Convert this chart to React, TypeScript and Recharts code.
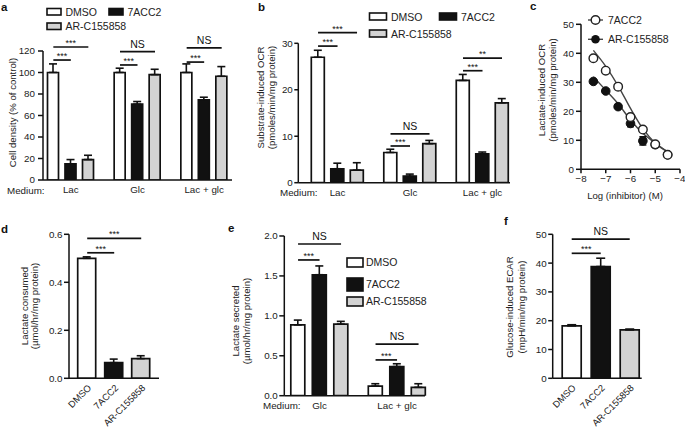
import React from 'react';
import { ComposedChart, Bar, XAxis, YAxis, ErrorBar, Cell, ReferenceLine, Scatter, Line } from 'recharts';

const PAGE_W = 685;
const PAGE_H = 429;
const FONT = '"Liberation Sans", Arial, Helvetica, sans-serif';
const INK = '#111';

const treatments = ['DMSO', '7ACC2', 'AR-C155858'];
const fills = ['#ffffff', '#111111', '#d3d3d3'];

// a - cell density (% of control)
const mediaA = ['Lac', 'Glc', 'Lac + glc'];
const densityDmso = [100, 100, 100];
const densityDmsoErr = [8, 4, 8];
const density7acc2 = [15, 70.5, 74.5];
const density7acc2Err = [4, 2.5, 2.5];
const densityAr = [19, 98, 96.5];
const densityArErr = [4, 5, 9];
const densityTicks = [0, 20, 40, 60, 80, 100, 120];
// [fromGroup, fromBar, toGroup, toBar, y, label]
const densitySig: [number, number, number, number, number, string][] = [
  [0, 0, 0, 2, 123.7, '***'], [0, 0, 0, 1, 111.6, '***'],
  [1, 0, 1, 2, 119.4, 'NS'], [1, 0, 1, 1, 107, '***'],
  [2, 0, 2, 2, 123, 'NS'], [2, 0, 2, 1, 109.7, '***'],
];

// b - substrate-induced OCR
const mediaB = ['Lac', 'Glc', 'Lac + glc'];
const ocrDmso = [27, 6.5, 22];
const ocrDmsoErr = [1.5, 0.7, 1.3];
const ocr7acc2 = [3, 1.4, 6.2];
const ocr7acc2Err = [1.2, 0.45, 0.4];
const ocrAr = [2.7, 8.4, 17.2];
const ocrArErr = [1.6, 0.7, 0.9];
const ocrTicks = [0, 10, 20, 30];
const ocrSig: [number, number, number, number, number, string][] = [
  [0, 0, 0, 2, 32.3, '***'], [0, 0, 0, 1, 29.4, '***'],
  [1, 0, 1, 2, 10.5, 'NS'], [1, 0, 1, 1, 7.9, '***'],
  [2, 0, 2, 2, 26.8, '**'], [2, 0, 2, 1, 24.1, '***'],
];

// c - lactate-induced OCR vs log(inhibitor)
const logDose = [-7.5, -7, -6.5, -6, -5.5, -5, -4.5];
const lacOcr7acc2 = [38.3, 34, 28.5, 18, 13.7, 8.6, 5];
const lacOcrAr = [30.3, 27, 21.6, 15.8, 9.8, 8.5, 5];
const lacOcrArErr = [0.6, 0.6, 0.6, 1.1, 1.4, 0.6, 0.5];
const fit7acc2 = [41, 35.5, 28.8, 21, 14, 9, 6];
const fitAr = [31.9, 27.3, 22.6, 17, 12.4, 9, 6.1];
const doseTicks = [-8, -7, -6, -5, -4];
const lacOcrTicks = [0, 10, 20, 30, 40, 50];

// d - lactate consumed
const consumed = [0.5, 0.065, 0.082];
const consumedErr = [0.006, 0.015, 0.012];
const consumedTicks = [0, 0.2, 0.4, 0.6];
const consumedSig: [number, number, number, number, number, string][] = [
  [0, 0, 2, 0, 0.583, '***'], [0, 0, 1, 0, 0.523, '***'],
];

// e - lactate secreted
const mediaE = ['Glc', 'Lac + glc'];
const secretedDmso = [0.887, 0.12];
const secretedDmsoErr = [0.06, 0.03];
const secreted7acc2 = [1.515, 0.365];
const secreted7acc2Err = [0.11, 0.035];
const secretedAr = [0.896, 0.105];
const secretedArErr = [0.035, 0.045];
const secretedTicks = [0, 0.5, 1, 1.5, 2];
const secretedSig: [number, number, number, number, number, string][] = [
  [0, 0, 0, 2, 1.9, 'NS'], [0, 0, 0, 1, 1.7, '***'],
  [1, 0, 1, 2, 0.645, 'NS'], [1, 0, 1, 1, 0.448, '***'],
];

// f - glucose-induced ECAR
const ecar = [18.2, 38.8, 16.8];
const ecarErr = [0.4, 2.9, 0.3];
const ecarTicks = [0, 10, 20, 30, 40, 50];
const ecarSig: [number, number, number, number, number, string][] = [
  [0, 0, 2, 0, 48.3, 'NS'], [0, 0, 1, 0, 43.4, '***'],
];

type Series = { key: string; values: number[]; errors: number[]; fill: string };
type Plot = { x: number; y: number; w: number; h: number };

const axisStyle = { stroke: INK, strokeWidth: 1.5 };
const tickText = { fill: '#222', fontSize: 9.8 };

function BarPanel(props: {
  categories: string[];
  series: Series[];
  cellFills?: string[];
  plot: Plot;
  pad: { left: number; right: number };
  domain: [number, number];
  ticks: number[];
  fmt?: (v: number) => string;
  barSize: number;
  barGap: number;
  cap: number;
  sig: [number, number, number, number, number, string][];
  angled?: boolean;
  yTickSize: number;
  yTickMargin: number;
}) {
  const { categories, series, cellFills, plot, pad, domain, ticks, fmt, barSize, barGap, cap, sig, angled } = props;
  const yw = 40;
  const xh = 30;
  const margin = { top: plot.y, left: plot.x - yw, right: PAGE_W - plot.x - plot.w, bottom: PAGE_H - plot.y - plot.h - xh };
  const n = categories.length;
  const band = (plot.w - pad.left - pad.right) / n;
  const mid = (series.length - 1) / 2;
  // position along a 0..n axis laid over the category bands
  const pos = (g: number, b: number) => g + 0.5 + ((b - mid) * (barSize + barGap)) / band;
  const rows = categories.map((c, i) => {
    const r: Record<string, unknown> = { cat: c, edge: i === n - 1 ? n : 0 };
    series.forEach((s) => {
      r[s.key] = s.values[i];
      r[s.key + 'Err'] = [0, s.errors[i]];
    });
    return r;
  });
  return (
    <div style={{ position: 'absolute', left: 0, top: 0 }}>
      <ComposedChart width={PAGE_W} height={PAGE_H} data={rows} margin={margin} barGap={barGap}>
        <XAxis
          dataKey="cat"
          height={xh}
          padding={pad}
          interval={0}
          tickLine={false}
          tickSize={4}
          tickMargin={angled ? 1.5 : 2.5}
          axisLine={axisStyle}
          angle={angled ? -45 : 0}
          tick={angled ? { ...tickText, fontSize: 9.4, textAnchor: 'end' } : tickText}
        />
        <XAxis xAxisId="pos" dataKey="edge" type="number" domain={[0, n]} padding={pad} hide allowDataOverflow />
        <YAxis
          width={yw}
          type="number"
          domain={domain}
          ticks={ticks}
          allowDataOverflow
          tickFormatter={fmt}
          tickSize={props.yTickSize}
          tickMargin={props.yTickMargin}
          axisLine={axisStyle}
          tickLine={axisStyle}
          tick={tickText}
        />
        {series.map((s) => (
          <Bar key={s.key} dataKey={s.key} barSize={barSize} fill={s.fill} stroke={INK} strokeWidth={1.7} isAnimationActive={false}>
            {cellFills && cellFills.map((f, i) => <Cell key={i} fill={f} />)}
            <ErrorBar dataKey={s.key + 'Err'} width={cap} strokeWidth={1.6} stroke={INK} />
          </Bar>
        ))}
        {sig.map(([g1, b1, g2, b2, yv, label], i) => (
          <ReferenceLine
            key={i}
            xAxisId="pos"
            ifOverflow="visible"
            segment={[{ x: pos(g1, b1), y: yv }, { x: pos(g2, b2), y: yv }]}
            stroke={INK}
            strokeWidth={1.7}
            label={{ value: label, position: 'top', offset: label === 'NS' ? 4 : 1, fontSize: label === 'NS' ? 10.5 : 9, fill: INK }}
          />
        ))}
      </ComposedChart>
    </div>
  );
}

const minus = (v: number) => (v < 0 ? `\u2212${Math.abs(v)}` : `${v}`);

function OpenDot(p: any) {
  return <circle cx={p.cx} cy={p.cy} r={4.3} fill="#fff" stroke="#222" strokeWidth={1.4} />;
}
function FilledDot(p: any) {
  return <circle cx={p.cx} cy={p.cy} r={4.3} fill={INK} stroke={INK} strokeWidth={1} />;
}

function DosePanel() {
  const plot = { x: 581, y: 24.3, w: 99, h: 145 };
  const yw = 40;
  const xh = 30;
  const margin = { top: plot.y, left: plot.x - yw, right: PAGE_W - plot.x - plot.w, bottom: PAGE_H - plot.y - plot.h - xh };
  const acc = logDose.map((x, i) => ({ x, y: lacOcr7acc2[i] }));
  const ar = logDose.map((x, i) => ({ x, y: lacOcrAr[i], e: lacOcrArErr[i] }));
  const accFit = logDose.map((x, i) => ({ x, y: fit7acc2[i] }));
  const arFit = logDose.map((x, i) => ({ x, y: fitAr[i] }));
  return (
    <div style={{ position: 'absolute', left: 0, top: 0 }}>
      <ComposedChart width={PAGE_W} height={PAGE_H} margin={margin}>
        <XAxis
          type="number"
          dataKey="x"
          domain={[-8, -4]}
          ticks={doseTicks}
          tickFormatter={minus}
          height={xh}
          tickSize={4}
          tickMargin={1.5}
          axisLine={axisStyle}
          tickLine={axisStyle}
          tick={tickText}
        />
        <YAxis
          type="number"
          width={yw}
          domain={[0, 50]}
          ticks={lacOcrTicks}
          tickSize={5}
          tickMargin={2}
          axisLine={axisStyle}
          tickLine={axisStyle}
          tick={tickText}
        />
        <Line data={accFit} dataKey="y" type="monotone" dot={false} stroke="#444" strokeWidth={1.4} isAnimationActive={false} />
        <Line data={arFit} dataKey="y" type="monotone" dot={false} stroke="#444" strokeWidth={1.4} isAnimationActive={false} />
        <Scatter data={ar} dataKey="y" shape={FilledDot} isAnimationActive={false}>
          <ErrorBar dataKey="e" direction="y" width={3.5} strokeWidth={1.6} stroke={INK} />
        </Scatter>
        <Scatter data={acc} dataKey="y" shape={OpenDot} isAnimationActive={false} />
      </ComposedChart>
    </div>
  );
}

function Overlay() {
  const title = { fontSize: 9.6, fill: '#222', textAnchor: 'middle' as const, dominantBaseline: 'central' as const };
  const rot = (x: number, y: number, s: string) => (
    <text key={s + x} {...title} x={x} y={y} transform={`rotate(-90 ${x} ${y})`}>{s}</text>
  );
  const letter = { fontSize: 11.5, fontWeight: 700, fill: '#111' };
  const leg = { fontSize: 10.5, fill: '#222' };
  const box = { stroke: INK, strokeWidth: 1.6 };
  return (
    <svg width={PAGE_W} height={PAGE_H} style={{ position: 'absolute', left: 0, top: 0, pointerEvents: 'none' }}>
      <text x={1} y={11} {...letter}>a</text>
      <text x={258} y={11} {...letter}>b</text>
      <text x={530} y={10} {...letter}>c</text>
      <text x={1} y={233} {...letter}>d</text>
      <text x={228} y={232} {...letter}>e</text>
      <text x={504} y={225} {...letter}>f</text>

      {/* legend a */}
      <rect x={47} y={8.5} width={14} height={6.5} fill={fills[0]} {...box} />
      <text x={65.5} y={15.5} {...leg}>{treatments[0]}</text>
      <rect x={109} y={8.5} width={14} height={6.5} fill={fills[1]} {...box} />
      <text x={127.5} y={15.5} {...leg}>{treatments[1]}</text>
      <rect x={47} y={23} width={14} height={6.5} fill={fills[2]} {...box} />
      <text x={65.5} y={30} {...leg}>{treatments[2]}</text>

      {/* legend b */}
      <rect x={369.5} y={13} width={17} height={7} fill={fills[0]} {...box} />
      <text x={391} y={20.5} {...leg}>{treatments[0]}</text>
      <rect x={439.5} y={13} width={17} height={7} fill={fills[1]} {...box} />
      <text x={461} y={20.5} {...leg}>{treatments[1]}</text>
      <rect x={369.5} y={30} width={17} height={7} fill={fills[2]} {...box} />
      <text x={391} y={37.5} {...leg}>{treatments[2]}</text>

      {/* legend c */}
      <line x1={588} y1={20} x2={603} y2={20} stroke="#444" strokeWidth={1.4} />
      <circle cx={595.5} cy={20} r={4.3} fill="#fff" stroke="#222" strokeWidth={1.4} />
      <text x={608} y={23.5} {...leg}>7ACC2</text>
      <line x1={588} y1={39.3} x2={603} y2={39.3} stroke="#444" strokeWidth={1.4} />
      <circle cx={595.5} cy={39.3} r={4.3} fill={INK} />
      <text x={608} y={43} {...leg}>AR-C155858</text>

      {/* legend e */}
      <rect x={347} y={258} width={16} height={9} fill={fills[0]} {...box} />
      <text x={366} y={266} {...leg}>{treatments[0]}</text>
      <rect x={347} y={278} width={16} height={13} fill={fills[1]} {...box} />
      <text x={366} y={288} {...leg}>{treatments[1]}</text>
      <rect x={347} y={297} width={16} height={9} fill={fills[2]} {...box} />
      <text x={366} y={305} {...leg}>{treatments[2]}</text>

      {/* axis titles */}
      {rot(12, 112.5, 'Cell density (% of control)')}
      {rot(260, 97.5, 'Substrate-induced OCR')}
      {rot(271.5, 97.5, '(pmoles/min/mg protein)')}
      {rot(541, 90, 'Lactate-induced OCR')}
      {rot(552.5, 90, '(pmoles/min/mg protein)')}
      {rot(24, 306, 'Lactate consumed')}
      {rot(34.5, 306, '(\u00b5mol/hr/mg protein)')}
      {rot(235, 321, 'Lactate secreted')}
      {rot(246.5, 321, '(\u00b5mol/hr/mg protein)')}
      {rot(509, 307, 'Glucose-induced ECAR')}
      {rot(521.5, 307, '(mpH/min/mg protein)')}
      <text x={625} y={199} fontSize={9.6} fill="#222" textAnchor="middle">Log (inhibitor) (M)</text>

      <text x={7} y={193.5} fontSize={9.8} fill="#222">Medium:</text>
      <text x={280} y={196} fontSize={9.8} fill="#222">Medium:</text>
      <text x={263} y={409} fontSize={9.8} fill="#222">Medium:</text>
    </svg>
  );
}

export default function App() {
  return (
    <div style={{ position: 'absolute', left: 0, top: 0, width: PAGE_W, height: PAGE_H, background: '#fff', fontFamily: FONT, overflow: 'hidden' }}>
      <BarPanel
        categories={mediaA}
        series={[
          { key: 'dmso', values: densityDmso, errors: densityDmsoErr, fill: fills[0] },
          { key: 'acc', values: density7acc2, errors: density7acc2Err, fill: fills[1] },
          { key: 'ar', values: densityAr, errors: densityArErr, fill: fills[2] },
        ]}
        plot={{ x: 43, y: 51, w: 189, h: 129 }}
        pad={{ left: -5.5, right: -5.5 }}
        domain={[0, 120]}
        ticks={densityTicks}
        barSize={11}
        barGap={6.5}
        cap={4}
        sig={densitySig}
        yTickSize={5}
        yTickMargin={3}
      />
      <BarPanel
        categories={mediaB}
        series={[
          { key: 'dmso', values: ocrDmso, errors: ocrDmsoErr, fill: fills[0] },
          { key: 'acc', values: ocr7acc2, errors: ocr7acc2Err, fill: fills[1] },
          { key: 'ar', values: ocrAr, errors: ocrArErr, fill: fills[2] },
        ]}
        plot={{ x: 298.3, y: 43.3, w: 211.7, h: 139.4 }}
        pad={{ left: 3, right: -8.75 }}
        domain={[0, 30]}
        ticks={ocrTicks}
        barSize={13}
        barGap={6.5}
        cap={4}
        sig={ocrSig}
        yTickSize={4}
        yTickMargin={1.5}
      />
      <DosePanel />
      <BarPanel
        categories={treatments}
        series={[{ key: 'v', values: consumed, errors: consumedErr, fill: fills[0] }]}
        cellFills={fills}
        plot={{ x: 69, y: 234.3, w: 90, h: 144 }}
        pad={{ left: 4.7, right: 4.3 }}
        domain={[0, 0.6]}
        ticks={consumedTicks}
        fmt={(v) => v.toFixed(1)}
        barSize={18}
        barGap={0}
        cap={4}
        sig={consumedSig}
        angled
        yTickSize={5}
        yTickMargin={1.5}
      />
      <BarPanel
        categories={mediaE}
        series={[
          { key: 'dmso', values: secretedDmso, errors: secretedDmsoErr, fill: fills[0] },
          { key: 'acc', values: secreted7acc2, errors: secreted7acc2Err, fill: fills[1] },
          { key: 'ar', values: secretedAr, errors: secretedArErr, fill: fills[2] },
        ]}
        plot={{ x: 284.3, y: 236, w: 140.7, h: 159.7 }}
        pad={{ left: -3.5, right: -10.8 }}
        domain={[0, 2]}
        ticks={secretedTicks}
        fmt={(v) => v.toFixed(1)}
        barSize={14}
        barGap={7.5}
        cap={4}
        sig={secretedSig}
        yTickSize={5}
        yTickMargin={1.5}
      />
      <BarPanel
        categories={treatments}
        series={[{ key: 'v', values: ecar, errors: ecarErr, fill: fills[0] }]}
        cellFills={fills}
        plot={{ x: 552.7, y: 234.3, w: 89, h: 144 }}
        pad={{ left: 4.5, right: -2.5 }}
        domain={[0, 50]}
        ticks={ecarTicks}
        barSize={19}
        barGap={0}
        cap={4.5}
        sig={ecarSig}
        angled
        yTickSize={4.5}
        yTickMargin={1.5}
      />
      <Overlay />
    </div>
  );
}
